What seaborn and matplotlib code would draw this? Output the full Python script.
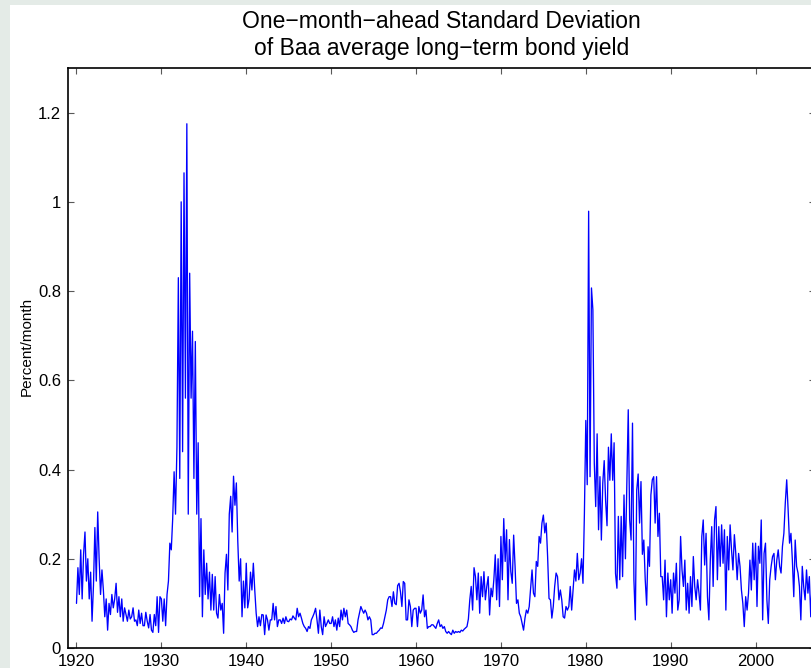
import numpy as np
import pandas as pd
import matplotlib
matplotlib.use("Agg")
import matplotlib.pyplot as plt
from matplotlib.patches import Rectangle
import seaborn as sns

# One-month-ahead standard deviation (percent/month), 6 readings per year
sd_1920s = [0.10, 0.18, 0.12, 0.22, 0.11, 0.21,
            0.26, 0.15, 0.20, 0.11, 0.17, 0.06,
            0.14, 0.27, 0.15, 0.305, 0.20, 0.12,
            0.175, 0.13, 0.07, 0.11, 0.04, 0.10,
            0.075, 0.12, 0.09, 0.11, 0.145, 0.08,
            0.115, 0.07, 0.11, 0.06, 0.09, 0.075,
            0.06, 0.085, 0.065, 0.07, 0.09, 0.06,
            0.063, 0.05, 0.085, 0.055, 0.078, 0.05,
            0.05, 0.08, 0.06, 0.045, 0.075, 0.04,
            0.035, 0.075, 0.05, 0.115, 0.035, 0.115]
sd_1930s = [0.11, 0.06, 0.11, 0.05, 0.12, 0.15,
            0.235, 0.22, 0.29, 0.395, 0.30, 0.45,
            0.83, 0.38, 1.00, 0.44, 1.065, 0.56,
            1.175, 0.30, 0.84, 0.56, 0.71, 0.38,
            0.687, 0.30, 0.46, 0.115, 0.29, 0.07,
            0.22, 0.12, 0.19, 0.11, 0.17, 0.085,
            0.165, 0.085, 0.16, 0.078, 0.067, 0.12,
            0.085, 0.10, 0.033, 0.168, 0.21, 0.13,
            0.30, 0.34, 0.26, 0.385, 0.32, 0.37,
            0.24, 0.15, 0.20, 0.07, 0.15, 0.09]
sd_1940s = [0.19, 0.09, 0.11, 0.17, 0.13, 0.19,
            0.13, 0.078, 0.048, 0.07, 0.05, 0.075,
            0.074, 0.03, 0.074, 0.063, 0.04, 0.063,
            0.063, 0.10, 0.063, 0.093, 0.048, 0.063,
            0.063, 0.055, 0.067, 0.055, 0.07, 0.06,
            0.059, 0.065, 0.063, 0.072, 0.067, 0.063,
            0.089, 0.07, 0.078, 0.067, 0.055, 0.048,
            0.044, 0.037, 0.048, 0.044, 0.063, 0.07,
            0.078, 0.089, 0.063, 0.033, 0.085, 0.048,
            0.03, 0.07, 0.048, 0.055, 0.063, 0.055]
sd_1950s = [0.055, 0.07, 0.048, 0.063, 0.04, 0.067,
            0.048, 0.085, 0.063, 0.089, 0.07, 0.085,
            0.055, 0.052, 0.048, 0.04, 0.035, 0.037,
            0.037, 0.063, 0.078, 0.093, 0.085, 0.078,
            0.085, 0.078, 0.063, 0.07, 0.063, 0.03,
            0.03, 0.033, 0.033, 0.037, 0.04, 0.045,
            0.044, 0.055, 0.07, 0.085, 0.108, 0.115,
            0.115, 0.093, 0.126, 0.10, 0.097, 0.14,
            0.145, 0.126, 0.093, 0.149, 0.145, 0.063,
            0.063, 0.108, 0.093, 0.048, 0.085, 0.089]
sd_1960s = [0.089, 0.048, 0.093, 0.078, 0.085, 0.119,
            0.07, 0.085, 0.044, 0.048, 0.048, 0.052,
            0.052, 0.048, 0.044, 0.055, 0.063, 0.048,
            0.052, 0.044, 0.048, 0.037, 0.033, 0.037,
            0.033, 0.03, 0.04, 0.033, 0.037, 0.035,
            0.037, 0.035, 0.04, 0.038, 0.042, 0.045,
            0.048, 0.065, 0.108, 0.138, 0.085, 0.18,
            0.16, 0.108, 0.168, 0.078, 0.16, 0.115,
            0.171, 0.108, 0.138, 0.16, 0.074, 0.134,
            0.115, 0.153, 0.209, 0.108, 0.20, 0.093]
sd_1970s = [0.25, 0.153, 0.29, 0.194, 0.265, 0.108,
            0.243, 0.171, 0.145, 0.253, 0.183, 0.10,
            0.108, 0.078, 0.07, 0.055, 0.04, 0.067,
            0.085, 0.078, 0.093, 0.134, 0.175, 0.123,
            0.115, 0.194, 0.183, 0.25, 0.235, 0.28,
            0.298, 0.258, 0.28, 0.205, 0.111, 0.108,
            0.067, 0.093, 0.138, 0.168, 0.16, 0.108,
            0.13, 0.108, 0.07, 0.067, 0.093, 0.085,
            0.093, 0.138, 0.085, 0.13, 0.175, 0.15,
            0.212, 0.153, 0.168, 0.20, 0.145, 0.30]
sd_1980s = [0.51, 0.366, 0.979, 0.384, 0.807, 0.758,
            0.414, 0.317, 0.48, 0.265, 0.384, 0.242,
            0.37, 0.42, 0.33, 0.274, 0.45, 0.376,
            0.48, 0.376, 0.46, 0.167, 0.134, 0.295,
            0.153, 0.295, 0.16, 0.343, 0.20, 0.366,
            0.534, 0.287, 0.242, 0.504, 0.153, 0.063,
            0.354, 0.39, 0.28, 0.373, 0.21, 0.242,
            0.153, 0.096, 0.227, 0.183, 0.343, 0.377,
            0.384, 0.28, 0.384, 0.25, 0.302, 0.16,
            0.16, 0.108, 0.197, 0.07, 0.168, 0.108]
sd_1990s = [0.153, 0.078, 0.168, 0.123, 0.19, 0.085,
            0.108, 0.25, 0.175, 0.138, 0.197, 0.085,
            0.145, 0.078, 0.16, 0.093, 0.205, 0.138,
            0.108, 0.153, 0.123, 0.085, 0.25, 0.287,
            0.186, 0.257, 0.115, 0.063, 0.197, 0.272,
            0.138, 0.287, 0.317, 0.153, 0.272, 0.183,
            0.276, 0.19, 0.265, 0.085, 0.25, 0.175,
            0.276, 0.22, 0.175, 0.254, 0.212, 0.153,
            0.212, 0.183, 0.13, 0.10, 0.048, 0.115,
            0.085, 0.123, 0.197, 0.13, 0.235, 0.153]
sd_2000s = [0.235, 0.093, 0.228, 0.19, 0.287, 0.063,
            0.212, 0.235, 0.108, 0.055, 0.153, 0.183,
            0.205, 0.212, 0.153, 0.197, 0.22, 0.183,
            0.168, 0.228, 0.257, 0.325, 0.377, 0.31,
            0.235, 0.257, 0.197, 0.115, 0.242, 0.183,
            0.168, 0.138, 0.063, 0.183, 0.138, 0.108,
            0.175, 0.123, 0.16, 0.07, 0.15, 0.12]

start_year = 1920
per_year = 6
x_ticks = [1920, 1930, 1940, 1950, 1960, 1970, 1980, 1990, 2000]
y_ticks = [0, 0.2, 0.4, 0.6, 0.8, 1.0, 1.2]
y_tick_labels = ["0", "0.2", "0.4", "0.6", "0.8", "1", "1.2"]
title_text = "One\u2212month\u2212ahead Standard Deviation\nof Baa average long\u2212term bond yield"
ylabel_text = "Percent/month"

values = np.array(sd_1920s + sd_1930s + sd_1940s + sd_1950s + sd_1960s
                  + sd_1970s + sd_1980s + sd_1990s + sd_2000s)
years = start_year + np.arange(len(values)) / per_year
df = pd.DataFrame({"year": years, "sd": values})

sns.set_theme(style="ticks")
plt.rcParams["font.family"] = ["Liberation Sans", "DejaVu Sans"]
plt.rcParams["text.color"] = "black"

W, H = 811, 668
fig = plt.figure(figsize=(W / 100, H / 100), dpi=100)
fig.patch.set_facecolor("#e4ebe7")
bg = Rectangle((10 / W, 0), 1 - 10 / W, 1 - 5 / H,
               transform=fig.transFigure, facecolor="white",
               edgecolor="none", zorder=-10)
fig.add_artist(bg)

left_px, right_px, top_px, bottom_px = 68, 815, 68, 648
ax = fig.add_axes([left_px / W, 1 - bottom_px / H,
                   (right_px - left_px) / W, (bottom_px - top_px) / H])
ax.set_zorder(1)
ax.set_facecolor("white")

sns.lineplot(data=df, x="year", y="sd", color="#0000ff", linewidth=0.95,
             estimator=None, ax=ax)

ax.set_xlim(1919, 2007)
ax.set_ylim(0, 1.3)
ax.set_xticks(x_ticks)
ax.set_xticklabels([str(t) for t in x_ticks])
ax.set_yticks(y_ticks)
ax.set_yticklabels(y_tick_labels)
ax.tick_params(axis="both", direction="in", length=4.5, width=0.8,
               color="0.35", top=True, right=True, labelsize=12,
               labelcolor="black")
ax.tick_params(axis="x", pad=4)
ax.tick_params(axis="y", pad=5)
for s in ax.spines.values():
    s.set_color("black")
    s.set_linewidth(1.2)

ax.set_xlabel("")
ax.set_ylabel(ylabel_text, fontsize=11, color="black")
ax.yaxis.set_label_coords((34 - left_px) / (right_px - left_px), 0.52)
ax.set_title(title_text, fontsize=16.5, pad=9, linespacing=1.25, color="black")

fig.savefig("out.png", dpi=100, facecolor=fig.get_facecolor())
